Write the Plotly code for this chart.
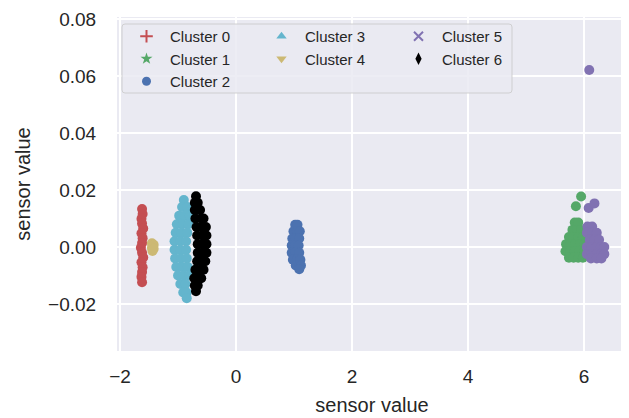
import plotly.graph_objects as go

# ---------------- data ----------------
cluster_names = ["Cluster 0", "Cluster 1", "Cluster 2", "Cluster 3", "Cluster 4", "Cluster 5", "Cluster 6"]

c0_x = [-1.62, -1.61, -1.63, -1.62, -1.60, -1.63, -1.61, -1.62, -1.64, -1.62, -1.60, -1.63, -1.61, -1.62, -1.63, -1.62]
c0_y = [0.0133, 0.0116, 0.0099, 0.0082, 0.0065, 0.0048, 0.0031, 0.0014, -0.0003, -0.0020, -0.0037, -0.0054, -0.0071, -0.0088, -0.0105, -0.0124]

c1_x = [5.84, 5.90, 5.80, 5.88, 5.95, 5.74, 5.82, 5.90, 5.98, 5.69, 5.77, 5.85, 5.93, 6.01,
        5.68, 5.76, 5.84, 5.92, 6.00, 5.74, 5.82, 5.90, 5.98, 5.86, 5.95]
c1_y = [0.0086, 0.0086, 0.006, 0.006, 0.006, 0.0035, 0.0035, 0.0035, 0.0035, 0.001, 0.001, 0.001, 0.001, 0.001,
        -0.0015, -0.0015, -0.0015, -0.0015, -0.0015, -0.0038, -0.0038, -0.0038, -0.0038, 0.0143, 0.0177]

c2_x = [1.02, 1.06, 0.99, 1.05, 1.10, 0.97, 1.03, 1.09, 0.96, 1.02, 1.08, 0.96, 1.02, 1.09,
        0.98, 1.05, 1.11, 1.03, 1.09, 1.12, 1.09]
c2_y = [0.0078, 0.0078, 0.0055, 0.0055, 0.0055, 0.003, 0.003, 0.003, 0.0005, 0.0005, 0.0005, -0.002, -0.002, -0.002,
        -0.0045, -0.0045, -0.0045, -0.0065, -0.0065, -0.0065, -0.0078]

c3_x = [-0.90, -0.93, -0.84, -0.98, -0.88, -0.80, -1.02, -0.92, -0.82, -1.04, -0.94, -0.84, -1.06, -0.96, -0.86,
        -1.06, -0.96, -0.86, -1.05, -0.95, -0.85, -1.03, -0.93, -0.83, -1.00, -0.90, -0.81, -0.96, -0.87, -0.91, -0.85, -0.85]
c3_y = [0.0165, 0.014, 0.014, 0.011, 0.011, 0.011, 0.008, 0.008, 0.008, 0.005, 0.005, 0.005, 0.002, 0.002, 0.002,
        -0.001, -0.001, -0.001, -0.004, -0.004, -0.004, -0.007, -0.007, -0.007, -0.010, -0.010, -0.010, -0.013, -0.013, -0.016, -0.016, -0.018]

c4_x = [-1.45, -1.42, -1.45, -1.42, -1.44]
c4_y = [0.0013, 0.0008, -0.0003, -0.0006, -0.0014]

c5_x = [6.06, 6.14, 6.05, 6.14, 6.22, 6.10, 6.18, 6.26, 6.05, 6.13, 6.21, 6.29, 6.35,
        6.05, 6.13, 6.21, 6.29, 6.35, 6.12, 6.22, 6.30, 6.08, 6.18, 6.09]
c5_y = [0.0072, 0.0072, 0.005, 0.005, 0.005, 0.0025, 0.0025, 0.0025, 0.0, 0.0, 0.0, 0.0, 0.0,
        -0.0025, -0.0025, -0.0025, -0.0025, -0.0025, -0.004, -0.004, -0.004, 0.0137, 0.0153, 0.0621]

c6_x = [-0.69, -0.71, -0.66, -0.71, -0.62, -0.70, -0.60, -0.56, -0.68, -0.59, -0.52, -0.67, -0.58, -0.51,
        -0.66, -0.58, -0.51, -0.66, -0.58, -0.51, -0.67, -0.59, -0.53, -0.70, -0.61, -0.56, -0.72, -0.63, -0.60,
        -0.71, -0.66, -0.69]
c6_y = [0.0178, 0.0155, 0.0155, 0.013, 0.013, 0.010, 0.010, 0.010, 0.007, 0.007, 0.007, 0.004, 0.004, 0.004,
        0.001, 0.001, 0.001, -0.002, -0.002, -0.002, -0.005, -0.005, -0.005, -0.008, -0.008, -0.008, -0.011, -0.011, -0.011,
        -0.0135, -0.0135, -0.0155]

xs = [c0_x, c1_x, c2_x, c3_x, c4_x, c5_x, c6_x]
ys = [c0_y, c1_y, c2_y, c3_y, c4_y, c5_y, c6_y]

x_ticks = [-2, 0, 2, 4, 6]
y_ticks = [-0.02, 0.00, 0.02, 0.04, 0.06, 0.08]

# ---------------- styling ----------------
colors = ["#C44E52", "#55A868", "#4C72B0", "#64B5CD", "#CCB974", "#8172B2", "#000000"]
legend_symbols = ["cross-thin", "star", "circle", "triangle-up", "triangle-down", "x-thin", "diamond-tall"]
legend_ids = ["legend", "legend", "legend", "legend2", "legend2", "legend3", "legend3"]
FONT = "Liberation Sans, Arial, sans-serif"
TXT = "#262626"

# page body has an 8px margin, so the figure is sized to the visible window
FIG_W, FIG_H = 621, 410
L, T, W, H = 109, 9, 510, 334

fig = go.Figure()

for i in range(7):
    fig.add_trace(go.Scatter(
        x=xs[i], y=ys[i], mode="markers", showlegend=False,
        marker=dict(size=10, color=colors[i], line=dict(width=0)),
        hoverinfo="skip"))

for i in range(7):
    thin = legend_symbols[i] in ("cross-thin", "x-thin")
    fig.add_trace(go.Scatter(
        x=[None], y=[None], mode="markers", name=cluster_names[i], legend=legend_ids[i],
        marker=dict(size=9, symbol=legend_symbols[i], color=colors[i],
                    line=dict(color=colors[i], width=2 if thin else 0))))


def px(x):
    return (x - 8 - L) / W


def py(y):
    return 1 - (y - 8 - T) / H


# legend frame (rounded rectangle)
x0, x1, y0, y1 = px(122), px(512), py(93), py(24)
rx, ry = 3 / W, 3 / H
path = (f"M {x0+rx},{y1} L {x1-rx},{y1} Q {x1},{y1} {x1},{y1-ry} L {x1},{y0+ry} Q {x1},{y0} {x1-rx},{y0} "
        f"L {x0+rx},{y0} Q {x0},{y0} {x0},{y0+ry} L {x0},{y1-ry} Q {x0},{y1} {x0+rx},{y1} Z")
fig.add_shape(type="path", path=path, xref="paper", yref="paper", layer="above",
              fillcolor="rgba(234,234,242,0.85)", line=dict(color="rgba(204,204,204,0.9)", width=1))

legend_common = dict(bgcolor="rgba(0,0,0,0)", borderwidth=0, font=dict(family=FONT, size=15, color=TXT),
                     xanchor="left", yanchor="top", orientation="v", itemwidth=37,
                     itemclick=False, itemdoubleclick=False)

fig.update_layout(
    width=FIG_W, height=FIG_H,
    margin=dict(l=L, r=FIG_W - L - W, t=T, b=FIG_H - T - H, autoexpand=False),
    paper_bgcolor="white", plot_bgcolor="#EAEAF2",
    font=dict(family=FONT, color=TXT),
    legend=dict(x=px(123), y=py(20), **legend_common),
    legend2=dict(x=px(258), y=py(20), **legend_common),
    legend3=dict(x=px(395), y=py(20), **legend_common),
    xaxis=dict(range=[-2.052, 6.741], tickvals=x_ticks, showgrid=True, gridcolor="white", gridwidth=1.6,
               zeroline=False, showline=False, ticks="outside", ticklen=8, tickcolor="rgba(0,0,0,0)",
               automargin=False, tickfont=dict(size=19, color=TXT),
               title=dict(text="sensor value", font=dict(size=20, color=TXT), standoff=12)),
    yaxis=dict(range=[-0.0365, 0.0807], tickvals=y_ticks, tickformat=".2f", showgrid=True, gridcolor="white",
               gridwidth=1.6, zeroline=False, showline=False, ticks="outside", ticklen=16,
               tickcolor="rgba(0,0,0,0)", automargin=False, tickfont=dict(size=19, color=TXT),
               title=dict(text="sensor value", font=dict(size=20, color=TXT), standoff=12)),
)

fig.write_html("out.html")
